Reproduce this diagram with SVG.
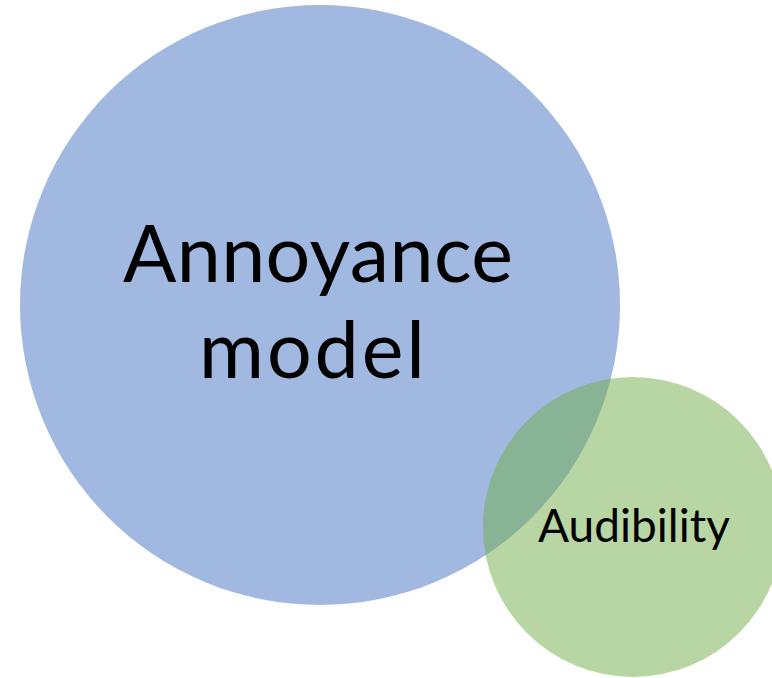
<svg xmlns="http://www.w3.org/2000/svg" width="772" height="678" viewBox="0 0 772 678">
<style>
.t{font-family:Lato,"Open Sans","Liberation Sans",sans-serif;fill:#000;text-anchor:middle}
</style>
<rect width="772" height="678" fill="#fff"/>
<g id="annoyance">
<circle cx="320" cy="305" r="300" fill="#4472C4" fill-opacity="0.5"/>
</g>
<g id="audibility">
<circle cx="633" cy="527" r="150" fill="#70AD47" fill-opacity="0.5"/>
</g>
<g id="labels">
<text class="t" x="318" y="282" font-size="79" textLength="390">Annoyance</text>
<text class="t" x="312" y="378" font-size="79" textLength="226">model</text>
<text class="t" x="634" y="542" font-size="46" textLength="192">Audibility</text>
</g>
<g id="connectors"/>
</svg>
